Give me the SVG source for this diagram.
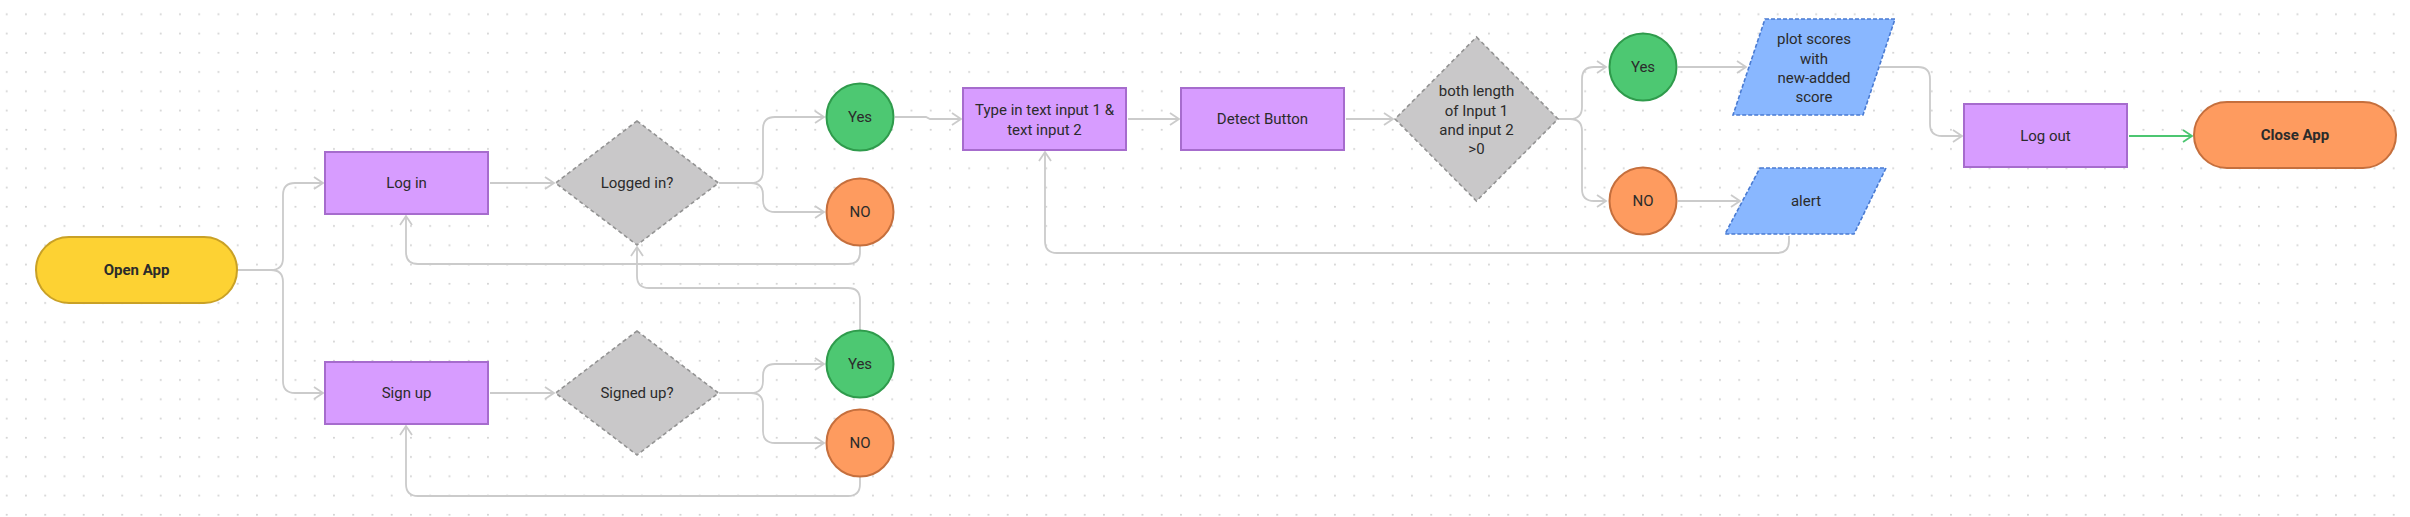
<svg xmlns="http://www.w3.org/2000/svg" width="2410" height="517" viewBox="0 0 2410 517">
<style>
.t{font-family:Roboto,"Liberation Sans",sans-serif;font-size:15px;fill:#2b2b2b;text-anchor:middle;dominant-baseline:central}
.b{font-weight:700}
.proc{fill:#d79cff;stroke:#a66ccd;stroke-width:2}
.dec{fill:#c9c8c9;stroke:#939393;stroke-width:1.6;stroke-dasharray:4 3}
.yes{fill:#4dc872;stroke:#2f9b4c;stroke-width:2}
.no{fill:#fe9b5f;stroke:#c56f3d;stroke-width:2}
.io{fill:#89b7ff;stroke:#4a7bd2;stroke-width:1.6;stroke-dasharray:4 2}
.c{fill:none;stroke:#cbcbcb;stroke-width:1.8;marker-end:url(#a)}
.g{fill:none;stroke:#4cc671;stroke-width:1.8;marker-end:url(#ag)}
</style>
<defs>
<pattern id="dots" patternUnits="userSpaceOnUse" width="19.25" height="19.25">
<circle cx="6.7" cy="14.3" r="1" fill="#d2d2d2"/>
</pattern>
<marker id="a" markerUnits="userSpaceOnUse" markerWidth="12" markerHeight="16" refX="10" refY="7" orient="auto">
<path d="M1,1 L10,7 L1,13" fill="none" stroke="#cbcbcb" stroke-width="1.8"/>
</marker>
<marker id="ag" markerUnits="userSpaceOnUse" markerWidth="12" markerHeight="16" refX="10" refY="7" orient="auto">
<path d="M1,1 L10,7 L1,13" fill="none" stroke="#4cc671" stroke-width="1.8"/>
</marker>
</defs>
<rect width="2410" height="517" fill="#ffffff"/>
<rect width="2410" height="517" fill="url(#dots)"/>

<g id="connectors">
<path class="c" d="M237,270 H271 Q283,270 283,258 V195 Q283,183 295,183 H323"/>
<path class="c" d="M237,270 H271 Q283,270 283,282 V381 Q283,393 295,393 H323"/>
<path class="c" d="M490,183 H554"/>
<path class="c" d="M490,393 H554"/>
<path class="c" d="M719,183 H751 Q763,183 763,171 V129 Q763,117 775,117 H824"/>
<path class="c" d="M719,183 H751 Q763,183 763,195 V200 Q763,212 775,212 H824"/>
<path class="c" d="M719,393 H751 Q763,393 763,381 V376 Q763,364 775,364 H824"/>
<path class="c" d="M719,393 H751 Q763,393 763,405 V431 Q763,443 775,443 H824"/>
<path class="c" d="M860,246 V252 Q860,264 848,264 H418 Q406,264 406,252 V216"/>
<path class="c" d="M860,330 V300 Q860,288 848,288 H649 Q637,288 637,276 V247"/>
<path class="c" d="M860,477 V484 Q860,496 848,496 H418 Q406,496 406,484 V426"/>
<path class="c" d="M895,117 H926 L930,119 H961"/>
<path class="c" d="M1128,119 H1179"/>
<path class="c" d="M1346,119 H1393"/>
<path class="c" d="M1558,119 H1570 Q1582,119 1582,107 V79 Q1582,67 1594,67 H1606"/>
<path class="c" d="M1558,119 H1570 Q1582,119 1582,131 V189 Q1582,201 1594,201 H1606"/>
<path class="c" d="M1678,67 H1746"/>
<path class="c" d="M1678,201 H1740"/>
<path class="c" d="M1789,236 V241 Q1789,253 1777,253 H1057 Q1045,253 1045,241 V152"/>
<path class="c" d="M1880,67 H1918 Q1930,67 1930,79 V124 Q1930,136 1942,136 H1962"/>
<path class="g" d="M2129,136 H2192"/>
</g>

<g id="open-app">
<rect x="36" y="237" width="201" height="66" rx="33" fill="#fdd233" stroke="#c9a126" stroke-width="2"/>
<text class="t b" x="136.5" y="270">Open App</text>
</g>
<g id="log-in">
<rect class="proc" x="325" y="152" width="163" height="62"/>
<text class="t" x="406.5" y="183">Log in</text>
</g>
<g id="sign-up">
<rect class="proc" x="325" y="362" width="163" height="62"/>
<text class="t" x="406.5" y="393">Sign up</text>
</g>
<g id="logged-in">
<polygon class="dec" points="637,121 718.5,183 637,245 555.5,183"/>
<text class="t" x="637" y="183">Logged in?</text>
</g>
<g id="signed-up">
<polygon class="dec" points="637,331 718.5,393 637,455 555.5,393"/>
<text class="t" x="637" y="393">Signed up?</text>
</g>
<g id="yes-login">
<circle class="yes" cx="860" cy="117" r="33.5"/>
<text class="t" x="860" y="117">Yes</text>
</g>
<g id="no-login">
<circle class="no" cx="860" cy="212" r="33.5"/>
<text class="t" x="860" y="212">NO</text>
</g>
<g id="yes-signup">
<circle class="yes" cx="860" cy="364" r="33.5"/>
<text class="t" x="860" y="364">Yes</text>
</g>
<g id="no-signup">
<circle class="no" cx="860" cy="443" r="33.5"/>
<text class="t" x="860" y="443">NO</text>
</g>
<g id="type-input">
<rect class="proc" x="963" y="88" width="163" height="62"/>
<text class="t" x="1044.5" y="110">Type in text input 1 &amp;</text>
<text class="t" x="1044.5" y="129.5">text input 2</text>
</g>
<g id="detect-button">
<rect class="proc" x="1181" y="88" width="163" height="62"/>
<text class="t" x="1262.5" y="119">Detect Button</text>
</g>
<g id="length-check">
<polygon class="dec" points="1476.5,37 1558,119 1476.5,201 1395,119"/>
<text class="t" x="1476.5" y="91">both length</text>
<text class="t" x="1476.5" y="110.5">of Input 1</text>
<text class="t" x="1476.5" y="130">and input 2</text>
<text class="t" x="1476.5" y="149">&gt;0</text>
</g>
<g id="yes-length">
<circle class="yes" cx="1643" cy="67" r="33.5"/>
<text class="t" x="1643" y="67">Yes</text>
</g>
<g id="no-length">
<circle class="no" cx="1643" cy="201" r="33.5"/>
<text class="t" x="1643" y="201">NO</text>
</g>
<g id="plot-scores">
<polygon class="io" points="1765,19 1895,19 1863,115 1733,115"/>
<text class="t" x="1814" y="39">plot scores</text>
<text class="t" x="1814" y="58.5">with</text>
<text class="t" x="1814" y="78">new-added</text>
<text class="t" x="1814" y="97">score</text>
</g>
<g id="alert">
<polygon class="io" points="1760,168 1886,168 1854,234 1725,234"/>
<text class="t" x="1806" y="201">alert</text>
</g>
<g id="log-out">
<rect class="proc" x="1964" y="104" width="163" height="63"/>
<text class="t" x="2045.5" y="135.5">Log out</text>
</g>
<g id="close-app">
<rect x="2194" y="102" width="202" height="66" rx="33" fill="#fe9b5f" stroke="#c56f3d" stroke-width="2"/>
<text class="t b" x="2295" y="135">Close App</text>
</g>
</svg>
